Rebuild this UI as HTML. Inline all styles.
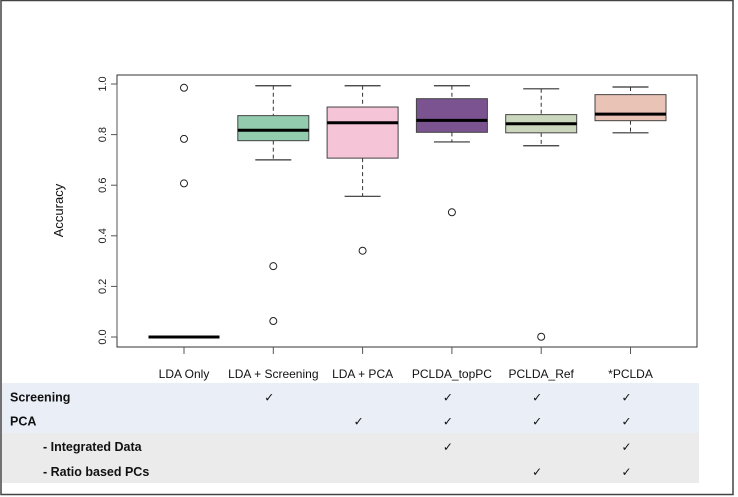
<!DOCTYPE html>
<html><head><meta charset="utf-8"><style>
body{margin:0;background:#fff;}
svg{display:block;font-family:"Liberation Sans",sans-serif;}
.narrow{font-family:"Liberation Sans Narrow","Liberation Sans",sans-serif;}
</style></head><body>
<svg width="738" height="497" viewBox="0 0 738 497">
<rect x="1" y="0.5" width="732" height="494" fill="#fff" stroke="#444" stroke-width="1.5"/>
<g id="table">
<rect x="2" y="383" width="697" height="50" fill="#e9eef7"/>
<rect x="2" y="433" width="697" height="50" fill="#ebebeb"/>
</g>
<g id="plot"></g>
<script>
const categories=["LDA Only","LDA + Screening","LDA + PCA","PCLDA_topPC","PCLDA_Ref","*PCLDA"];
const whiskerLow=[0,0.70,0.556,0.771,0.756,0.807];
const q1=[0,0.776,0.707,0.809,0.807,0.855];
const medians=[0,0.817,0.847,0.856,0.843,0.881];
const q3=[0,0.875,0.909,0.942,0.879,0.958];
const whiskerHigh=[0,0.993,0.993,0.993,0.981,0.988];
const outliers=[[0.985,0.783,0.607],[0.28,0.063],[0.341],[0.493],[0.001],[]];
const colors=["#ffffff","#92cbae","#f5c4d6","#7a5390","#cad7bd","#e9c3b5"];
const yTicks=[0,0.2,0.4,0.6,0.8,1.0];
const tableRows=["Screening","PCA","- Integrated Data","- Ratio based PCs"];
const tableChecks=[[0,1,0,1,1,1],[0,0,1,1,1,1],[0,0,0,1,0,1],[0,0,0,0,1,1]];

const NS="http://www.w3.org/2000/svg";
const L=117,R=697,T=75,B=347;
const y=v=>337-v*253;
const x=i=>184+i*89.3;
const bw=71;
const g=document.getElementById('plot');
function mk(tag,attrs,parent,text){const e=document.createElementNS(NS,tag);for(const k in attrs)e.setAttribute(k,attrs[k]);if(text!==undefined)e.textContent=text;(parent||g).appendChild(e);return e;}

let e=mk('rect',{x:L,y:T,width:R-L,height:B-T,fill:'none',stroke:'#333','stroke-width':1});


e=mk('line',{x1:L,x2:L,y1:y(0),y2:y(1),stroke:'#555'});


yTicks.forEach(v=>{
  let t=mk('line',{x1:L-6,x2:L,y1:y(v),y2:y(v),stroke:'#555'});
  
  
  let tx=mk('text',{x:0,y:0,transform:`translate(${L-11},${y(v)}) rotate(-90)`,'text-anchor':'middle','font-size':11,fill:'#222'},g,v.toFixed(1));
  
  
});
e=mk('text',{transform:`translate(63,${y(0.5)}) rotate(-90)`,'text-anchor':'middle','font-size':13,fill:'#111'},g,'Accuracy');



categories.forEach((c,i)=>{
  const cx=x(i);
  let t=mk('line',{x1:cx,x2:cx,y1:B,y2:B+7,stroke:'#555'});
  
  
  let lb=mk('text',{x:cx,y:378,'text-anchor':'middle','font-size':12,fill:'#111'},g,c);
  
  
  if(q3[i]>q1[i]){
    [[whiskerHigh[i],q3[i]],[q1[i],whiskerLow[i]]].forEach(([a,b])=>{
      let w=mk('line',{x1:cx,x2:cx,y1:y(a),y2:y(b),stroke:'#333','stroke-dasharray':'4,3'});
      
      
      let cap=mk('line',{x1:cx-18,x2:cx+18,y1:y(a===whiskerHigh[i]?a:b),y2:y(a===whiskerHigh[i]?a:b),stroke:'#333','stroke-width':1.2});
      
      
    });
    let b=mk('rect',{x:cx-bw/2,y:y(q3[i]),width:bw,height:y(q1[i])-y(q3[i]),fill:colors[i],stroke:'#444','stroke-width':1});
    
    
  }
  let m=mk('line',{x1:cx-bw/2,x2:cx+bw/2,y1:y(medians[i]),y2:y(medians[i]),stroke:'#000','stroke-width':3});
  
  
  outliers[i].forEach(v=>{
    let o=mk('circle',{cx:cx,cy:y(v),r:3.5,fill:'none',stroke:'#222','stroke-width':1});
    
    
  });
});
const tb=document.getElementById('table');
const rowY=[397.7,421.7,447,472];
tableRows.forEach((r,j)=>{
  let t=mk('text',{x:j<2?10:43,y:rowY[j]+4,'font-size':12.5,'font-weight':'bold',fill:'#111','class':'narrow'},tb,r);
  
  
  tableChecks[j].forEach((c,i)=>{
    if(!c)return;
    let ck=mk('text',{x:x(i)-4,y:rowY[j]+4,'text-anchor':'middle','font-size':12,fill:'#111'},tb,'✓');
    
    
  });
});
</script>
</svg>
</body></html>
